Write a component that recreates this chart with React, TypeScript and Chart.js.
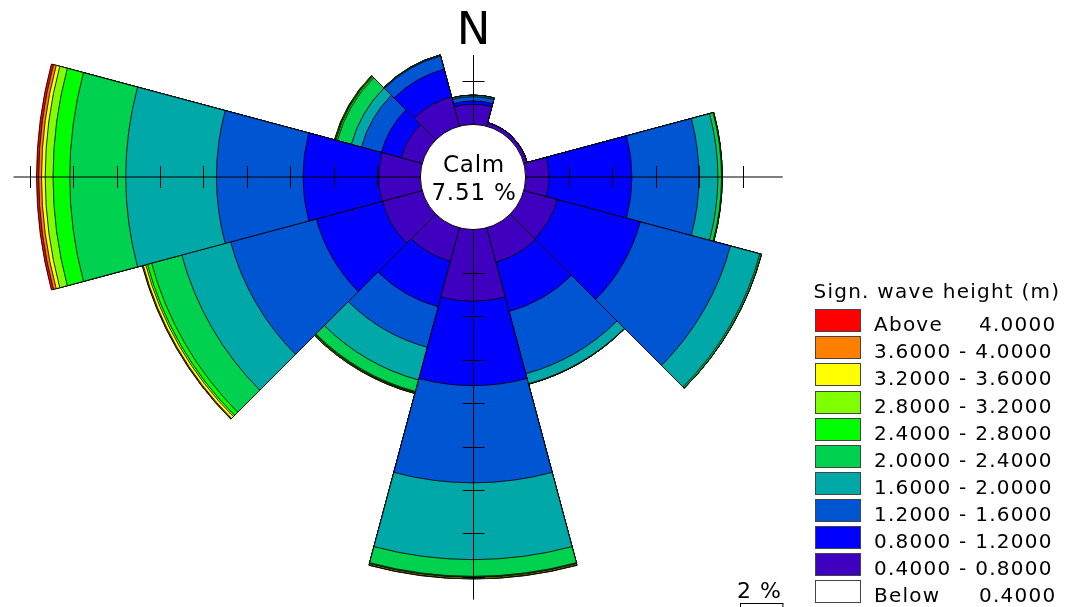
import React, { useEffect, useRef } from "react";
import { Chart, registerables } from "chart.js";

Chart.register(...registerables);

// ---------------- data ----------------
const directions = ["0°", "30°", "60°", "90°", "120°", "150°", "180°", "210°", "240°", "270°", "300°", "330°"];

// frequency (%) of each significant wave height class per direction sector
const hs_04_08 = [0.93, 0.16, 0.15, 1.07, 1.6, 1.64, 3.3, 1.6, 1.9, 1.92, 1.0, 1.41];
const hs_08_12 = [0.15, 0.01, 0.01, 3.83, 3.96, 2.35, 3.89, 2.17, 3.15, 3.49, 0.95, 1.31];
const hs_12_16 = [0.2, 0, 0, 3.09, 4.3, 2.97, 4.48, 1.93, 4.09, 3.99, 0.95, 0.63];
const hs_16_20 = [0.06, 0, 0, 0.87, 1.4, 0.48, 3.54, 1.56, 2.33, 4.18, 0.48, 0.03];
const hs_20_24 = [0.01, 0, 0, 0.17, 0.07, 0.02, 0.77, 0.55, 1.44, 2.58, 0.67, 0.02];
const hs_24_28 = [0, 0, 0, 0.03, 0.01, 0, 0.03, 0.04, 0.2, 0.77, 0.07, 0];
const hs_28_32 = [0, 0, 0, 0, 0, 0, 0.02, 0.02, 0.08, 0.36, 0.03, 0];
const hs_32_36 = [0, 0, 0, 0, 0, 0, 0.05, 0.03, 0.12, 0.17, 0.02, 0];
const hs_36_40 = [0, 0, 0, 0, 0, 0, 0.02, 0.01, 0.04, 0.13, 0.01, 0];
const hs_40_up = [0, 0, 0, 0, 0, 0, 0, 0, 0.01, 0.1, 0.01, 0];

const calmPercent = 7.51;

// legend (top to bottom)
const legendTitle = "Sign. wave height (m)";
const legendLeft = [
  "Above",
  "3.6000 - 4.0000",
  "3.2000 - 3.6000",
  "2.8000 - 3.2000",
  "2.4000 - 2.8000",
  "2.0000 - 2.4000",
  "1.6000 - 2.0000",
  "1.2000 - 1.6000",
  "0.8000 - 1.2000",
  "0.4000 - 0.8000",
  "Below",
];
const legendRight = ["4.0000", "", "", "", "", "", "", "", "", "", "0.4000"];
const legendColors = [
  "#FF0000",
  "#FF8000",
  "#FFFF00",
  "#80FF00",
  "#00FF00",
  "#00D250",
  "#00A8A8",
  "#0055D2",
  "#0000FF",
  "#4000C0",
  "#FFFFFF",
];

// axis tick step (%) and axis extents (%)
const tickStep = 2;
const axisLeftEnd = 18.75;
const axisRightEnd = 11.85;
const axisTopEnd = 3.2;
const axisBottomEnd = 17.05;
const scaleBarPercent = 2;

// ---------------- layout constants ----------------
const W = 1074;
const H = 607;
const CX = 473;
const CY = 177;
const CALM_PX = 52.6;
const PX_PER_PCT = 21.7;
const AREA = 170; // drawing radius of the radial scale (px)
const FONT = "'DejaVu Sans', Verdana, sans-serif";

const classes = [hs_04_08, hs_08_12, hs_12_16, hs_16_20, hs_20_24, hs_24_28, hs_28_32, hs_32_36, hs_36_40, hs_40_up];
// colors for classes inner -> outer
const classColors = legendColors.slice(0, 10).reverse();

function cumulative(idx: number): number[] {
  return directions.map((_, d) => {
    let s = 0;
    for (let k = 0; k <= idx; k++) s += classes[k][d];
    return +s.toFixed(4);
  });
}

const rosePlugin = {
  id: "roseDecor",
  afterDatasetsDraw(chart: any) {
    const ctx = chart.ctx as CanvasRenderingContext2D;
    const s = chart.scales.r;
    const cx = s.xCenter;
    const cy = s.yCenter;
    const d = (v: number) => s.getDistanceFromCenterForValue(v);
    ctx.save();
    // axes
    ctx.strokeStyle = "#000";
    ctx.lineWidth = 1;
    ctx.beginPath();
    ctx.moveTo(cx - d(axisLeftEnd), cy);
    ctx.lineTo(cx + d(axisRightEnd), cy);
    ctx.stroke();
    ctx.beginPath();
    ctx.moveTo(cx + 0.5, cy - d(axisTopEnd));
    ctx.lineTo(cx + 0.5, cy + d(axisBottomEnd));
    ctx.stroke();
    // ticks
    const t = 11;
    ctx.beginPath();
    for (let v = tickStep; v < axisLeftEnd; v += tickStep) {
      const x = Math.round(cx - d(v)) + 0.5;
      ctx.moveTo(x, cy - t);
      ctx.lineTo(x, cy + t);
    }
    for (let v = tickStep; v < axisRightEnd; v += tickStep) {
      const x = Math.round(cx + d(v)) + 0.5;
      ctx.moveTo(x, cy - t);
      ctx.lineTo(x, cy + t);
    }
    for (let v = tickStep; v < axisTopEnd; v += tickStep) {
      const y = Math.round(cy - d(v)) + 0.5;
      ctx.moveTo(cx - t + 0.5, y);
      ctx.lineTo(cx + t + 0.5, y);
    }
    for (let v = tickStep; v < axisBottomEnd; v += tickStep) {
      const y = Math.round(cy + d(v)) + 0.5;
      ctx.moveTo(cx - t + 0.5, y);
      ctx.lineTo(cx + t + 0.5, y);
    }
    ctx.stroke();
    // calm circle
    ctx.beginPath();
    ctx.arc(cx, cy, d(0), 0, Math.PI * 2);
    ctx.fillStyle = "#fff";
    ctx.fill();
    ctx.strokeStyle = "#000";
    ctx.lineWidth = 1;
    ctx.stroke();
    ctx.restore();
  },
  afterDraw(chart: any) {
    const ctx = chart.ctx as CanvasRenderingContext2D;
    const s = chart.scales.r;
    const cx = s.xCenter;
    const d = (v: number) => s.getDistanceFromCenterForValue(v);
    ctx.save();
    ctx.fillStyle = "#000";
    ctx.textBaseline = "alphabetic";
    // North label
    ctx.textAlign = "center";
    ctx.font = `45px ${FONT}`;
    ctx.fillText("N", cx + 0.5, 43.5);
    // calm text
    (ctx as any).letterSpacing = "0.8px";
    ctx.font = `23px ${FONT}`;
    ctx.fillText("Calm", cx + 1, 171.5);
    ctx.fillText(calmPercent.toFixed(2) + " %", cx + 1, 200);
    // legend
    (ctx as any).letterSpacing = "1.25px";
    ctx.textAlign = "left";
    ctx.font = `20px ${FONT}`;
    ctx.fillText(legendTitle, 813.5, 298);
    const boxX = 815;
    const boxW = 46;
    const boxH = 23;
    const top0 = 309.3;
    const step = 27.07;
    legendLeft.forEach((lab, i) => {
      const y = Math.round(top0 + step * i);
      ctx.fillStyle = legendColors[i];
      ctx.fillRect(boxX, y, boxW, boxH);
      ctx.strokeStyle = "#444";
      ctx.lineWidth = 1;
      ctx.strokeRect(boxX + 0.5, y + 0.5, boxW - 1, boxH - 1);
      ctx.fillStyle = "#000";
      ctx.textAlign = "left";
      ctx.fillText(lab, 874, y + 21.7);
      if (legendRight[i]) {
        ctx.textAlign = "right";
        ctx.fillText(legendRight[i], 1056.5, y + 21.7);
      }
    });
    // scale bar
    (ctx as any).letterSpacing = "1px";
    ctx.textAlign = "left";
    ctx.font = `22px ${FONT}`;
    ctx.fillText(scaleBarPercent + " %", 737, 597.5);
    const len = d(scaleBarPercent) - d(0);
    const bx = 740;
    const by = 603.5;
    ctx.strokeStyle = "#000";
    ctx.lineWidth = 1;
    ctx.beginPath();
    ctx.moveTo(bx, by);
    ctx.lineTo(bx + len, by);
    ctx.moveTo(bx + 0.5, by);
    ctx.lineTo(bx + 0.5, H);
    ctx.moveTo(bx + len - 0.5, by);
    ctx.lineTo(bx + len - 0.5, H);
    ctx.stroke();
    ctx.restore();
  },
};

export default function App() {
  const ref = useRef<HTMLCanvasElement | null>(null);
  useEffect(() => {
    if (!ref.current) return;
    const rMin = -CALM_PX / PX_PER_PCT;
    const rMax = rMin + AREA / PX_PER_PCT;
    const datasets = classes.map((_, i) => ({
      label: legendLeft[9 - i],
      data: cumulative(i),
      backgroundColor: classColors[i],
      borderColor: "rgba(0,0,0,0.85)",
      borderWidth: 1,
      clip: false as any,
    }));
    const chart = new Chart(ref.current, {
      type: "polarArea",
      data: { labels: directions, datasets },
      options: {
        responsive: false,
        animation: false,
        events: [],
        layout: {
          padding: {
            left: CX - AREA,
            top: CY - AREA,
            right: W - (CX + AREA),
            bottom: H - (CY + AREA),
          },
        },
        plugins: { legend: { display: false }, tooltip: { enabled: false }, title: { display: false } },
        scales: {
          r: {
            display: false,
            min: rMin,
            max: rMax,
            bounds: "data",
            startAngle: -15,
            ticks: { display: false },
            pointLabels: { display: false },
          },
        },
      } as any,
      plugins: [rosePlugin],
    });
    return () => chart.destroy();
  }, []);
  return (
    <div style={{ position: "absolute", left: 0, top: 0, width: W, height: H, background: "#fff" }}>
      <canvas ref={ref} width={W} height={H} style={{ display: "block" }} />
    </div>
  );
}
